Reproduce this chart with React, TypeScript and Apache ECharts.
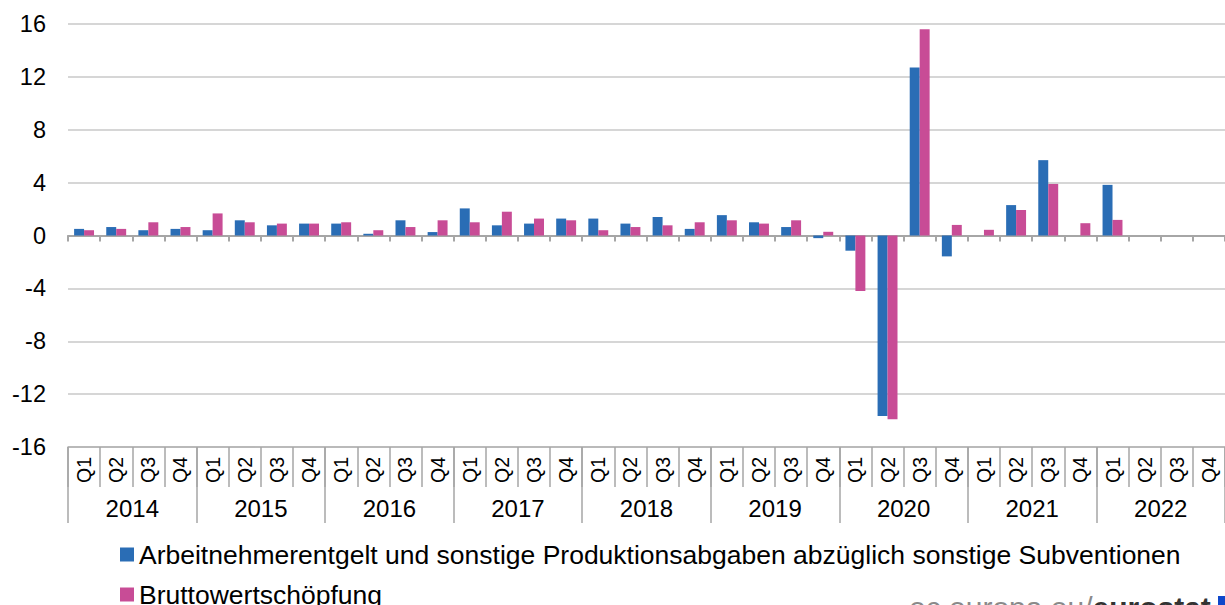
import React, { useEffect, useRef } from "react";
import * as echarts from "echarts";

const quarterLabels = [
  "Q1", "Q2", "Q3", "Q4", "Q1", "Q2", "Q3", "Q4", "Q1", "Q2", "Q3", "Q4",
  "Q1", "Q2", "Q3", "Q4", "Q1", "Q2", "Q3", "Q4", "Q1", "Q2", "Q3", "Q4",
  "Q1", "Q2", "Q3", "Q4", "Q1", "Q2", "Q3", "Q4", "Q1", "Q2", "Q3", "Q4",
];
const years = ["2014", "2015", "2016", "2017", "2018", "2019", "2020", "2021", "2022"];

const seriesNames = [
  "Arbeitnehmerentgelt und sonstige Produktionsabgaben abzüglich sonstige Subventionen",
  "Bruttowertschöpfung",
];

const arbeitnehmerentgelt = [
  0.5, 0.64, 0.4, 0.5,
  0.4, 1.15, 0.77, 0.9,
  0.9, 0.13, 1.15, 0.26,
  2.05, 0.77, 0.9, 1.28,
  1.28, 0.9, 1.4, 0.5,
  1.54, 1.0, 0.64, -0.2,
  -1.15, -13.65, 12.7, -1.58,
  0, 2.3, 5.7, 0,
  3.83, null, null, null,
];
const bruttowertschoepfung = [
  0.4, 0.5, 1.0, 0.64,
  1.67, 1.0, 0.9, 0.9,
  1.0, 0.4, 0.64, 1.15,
  1.0, 1.8, 1.28, 1.15,
  0.4, 0.64, 0.77, 1.0,
  1.15, 0.9, 1.15, 0.28,
  -4.2, -13.9, 15.6, 0.8,
  0.43, 1.93, 3.9, 0.93,
  1.18, null, null, null,
];

const yMin = -16;
const yMax = 16;
const yStep = 4;

const BLUE = "#2a6db5";
const PINK = "#c84c96";
const FONT = "'Liberation Sans', Arial, sans-serif";

export default function App() {
  const ref = useRef<HTMLDivElement>(null);

  useEffect(() => {
    if (!ref.current) return;
    const chart = echarts.init(ref.current, null, { renderer: "svg" });
    const grid = { left: 68, top: 24, width: 1163, height: 423 };
    const legendText = { fontSize: 26.5, lineHeight: 27, color: "#000", fontFamily: FONT };
    chart.setOption({
      animation: false,
      backgroundColor: "#ffffff",
      textStyle: { fontFamily: FONT },
      grid,
      legend: [
        {
          left: 120,
          top: 541,
          padding: 0,
          itemWidth: 14,
          itemHeight: 14,
          icon: "rect",
          data: [seriesNames[0]],
          textStyle: legendText,
        },
        {
          left: 120,
          top: 581,
          padding: 0,
          itemWidth: 14,
          itemHeight: 14,
          icon: "rect",
          data: [seriesNames[1]],
          textStyle: legendText,
        },
      ],
      xAxis: [
        {
          type: "category",
          data: quarterLabels,
          position: "bottom",
          axisLine: { onZero: true, lineStyle: { color: "#a6a6a6", width: 2 } },
          axisTick: { show: true, interval: 0, length: 6, lineStyle: { color: "#a6a6a6", width: 2 } },
          axisLabel: { show: false },
          splitLine: { show: false },
        },
        {
          type: "category",
          data: quarterLabels,
          position: "bottom",
          axisLine: { onZero: false, show: true, lineStyle: { color: "#b0b0b0", width: 1.5 } },
          axisTick: { show: true, interval: 0, length: 40, lineStyle: { color: "#a6a6a6", width: 1.5 } },
          axisLabel: {
            show: true,
            interval: 0,
            rotate: 90,
            margin: 10,
            fontSize: 19.5,
            color: "#000",
            fontFamily: FONT,
          },
          splitLine: { show: false },
        },
        {
          type: "category",
          data: years,
          position: "bottom",
          axisLine: { onZero: false, show: false },
          axisTick: { show: true, interval: 0, length: 76, lineStyle: { color: "#a6a6a6", width: 1.5 } },
          axisLabel: {
            show: true,
            interval: 0,
            margin: 49,
            fontSize: 24,
            color: "#000",
            fontFamily: FONT,
          },
          splitLine: { show: false },
        },
      ],
      yAxis: {
        type: "value",
        min: yMin,
        max: yMax,
        interval: yStep,
        axisLine: { show: false },
        axisTick: { show: false },
        axisLabel: { fontSize: 23.5, color: "#000", margin: 22, fontFamily: FONT },
        splitLine: { show: true, lineStyle: { color: "#c8c8c8", width: 1.5 } },
      },
      series: [
        {
          name: seriesNames[0],
          type: "bar",
          xAxisIndex: 0,
          data: arbeitnehmerentgelt,
          itemStyle: { color: BLUE },
          barGap: "0%",
          barCategoryGap: "38%",
        },
        {
          name: seriesNames[1],
          type: "bar",
          xAxisIndex: 0,
          data: bruttowertschoepfung,
          itemStyle: { color: PINK },
          barGap: "0%",
          barCategoryGap: "38%",
        },
      ],
      graphic: [
        {
          type: "text",
          left: 909,
          top: 592,
          style: {
            text: "{a|ec.europa.eu/}{b|eurostat}",
            rich: {
              a: { fontSize: 30, fill: "#8a8a8a", fontFamily: FONT },
              b: { fontSize: 30, fill: "#333", fontWeight: "bold", fontFamily: FONT },
            },
          },
        },
        {
          type: "rect",
          left: 1218,
          top: 596,
          shape: { width: 10, height: 14 },
          style: { fill: "#0e47cb" },
        },
      ],
    });
    return () => chart.dispose();
  }, []);

  return (
    <div
      ref={ref}
      style={{ position: "fixed", left: 0, top: 0, width: 1225, height: 605 }}
    />
  );
}
